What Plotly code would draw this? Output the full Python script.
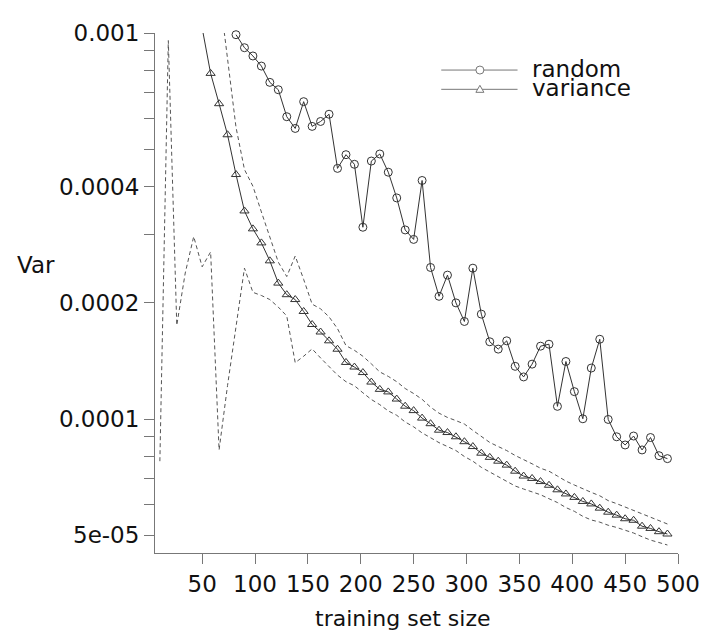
import math
import plotly.graph_objects as go

# training set sizes
sizes = [10, 18, 26, 34, 42, 50, 58, 66, 74, 82, 90, 98, 106, 114, 122, 130, 138, 146,
         154, 162, 170, 178, 186, 194, 202, 210, 218, 226, 234, 242, 250, 258, 266, 274,
         282, 290, 298, 306, 314, 322, 330, 338, 346, 354, 362, 370, 378, 386, 394, 402,
         410, 418, 426, 434, 442, 450, 458, 466, 474, 482, 490]

# "random" selection variance (starts at 82)
random_var = [None] * 9 + [
    9.90e-4, 9.16e-4, 8.72e-4, 8.21e-4, 7.45e-4, 7.13e-4, 6.07e-4, 5.66e-4, 6.64e-4,
    5.73e-4, 5.90e-4, 6.16e-4, 4.46e-4, 4.84e-4, 4.57e-4, 3.14e-4, 4.66e-4, 4.86e-4,
    4.36e-4, 3.74e-4, 3.09e-4, 2.92e-4, 4.15e-4, 2.47e-4, 2.08e-4, 2.36e-4, 2.00e-4,
    1.79e-4, 2.46e-4, 1.87e-4, 1.586e-4, 1.518e-4, 1.595e-4, 1.37e-4, 1.286e-4, 1.388e-4,
    1.545e-4, 1.563e-4, 1.079e-4, 1.41e-4, 1.178e-4, 1.002e-4, 1.356e-4, 1.61e-4, 9.98e-5,
    9.0e-5, 8.57e-5, 9.04e-5, 8.32e-5, 8.96e-5, 8.04e-5, 7.90e-5]

# "variance" selection curve
variance_var = [None] * 5 + [
    1.03e-3, 7.86e-4, 6.56e-4, 5.45e-4, 4.30e-4, 3.46e-4, 3.11e-4, 2.86e-4, 2.57e-4,
    2.25e-4, 2.10e-4, 2.04e-4, 1.90e-4, 1.758e-4, 1.681e-4, 1.595e-4, 1.517e-4, 1.402e-4,
    1.364e-4, 1.32e-4, 1.247e-4, 1.194e-4, 1.176e-4, 1.127e-4, 1.08e-4, 1.052e-4, 1.006e-4,
    9.73e-5, 9.36e-5, 9.23e-5, 9.0e-5, 8.74e-5, 8.49e-5, 8.16e-5, 7.96e-5, 7.78e-5, 7.60e-5,
    7.33e-5, 7.12e-5, 7.02e-5, 6.89e-5, 6.74e-5, 6.56e-5, 6.40e-5, 6.27e-5, 6.12e-5,
    6.03e-5, 5.88e-5, 5.74e-5, 5.64e-5, 5.52e-5, 5.47e-5, 5.28e-5, 5.21e-5, 5.11e-5, 5.04e-5]

# upper dashed band
upper_band = [None] * 7 + [
    1.29e-3, 8.49e-4, 5.70e-4, 4.43e-4, 4.01e-4, 3.44e-4, 2.96e-4, 2.55e-4, 2.34e-4,
    2.645e-4, 2.30e-4, 1.985e-4, 1.93e-4, 1.84e-4, 1.715e-4, 1.55e-4, 1.507e-4, 1.455e-4,
    1.39e-4, 1.325e-4, 1.29e-4, 1.25e-4, 1.20e-4, 1.165e-4, 1.125e-4, 1.074e-4, 1.036e-4,
    1.01e-4, 9.91e-5, 9.71e-5, 9.35e-5, 9.0e-5, 8.7e-5, 8.49e-5, 8.29e-5, 8.05e-5, 7.87e-5,
    7.66e-5, 7.46e-5, 7.33e-5, 7.12e-5, 6.91e-5, 6.75e-5, 6.59e-5, 6.46e-5, 6.33e-5,
    6.15e-5, 6.04e-5, 5.92e-5, 5.80e-5, 5.69e-5, 5.57e-5, 5.45e-5, 5.35e-5]

# lower dashed band
lower_band = [
    7.78e-5, 9.56e-4, 1.75e-4, 2.39e-4, 2.97e-4, 2.48e-4, 2.71e-4, 8.32e-5, 1.222e-4,
    1.75e-4, 2.46e-4, 2.13e-4, 2.09e-4, 2.04e-4, 1.95e-4, 1.85e-4, 1.40e-4, 1.455e-4,
    1.52e-4, 1.44e-4, 1.364e-4, 1.30e-4, 1.25e-4, 1.22e-4, 1.17e-4, 1.124e-4, 1.09e-4,
    1.05e-4, 1.023e-4, 9.83e-5, 9.55e-5, 9.21e-5, 8.95e-5, 8.69e-5, 8.49e-5, 8.29e-5,
    8.00e-5, 7.78e-5, 7.50e-5, 7.29e-5, 7.12e-5, 6.91e-5, 6.71e-5, 6.59e-5, 6.48e-5,
    6.37e-5, 6.22e-5, 6.08e-5, 5.90e-5, 5.77e-5, 5.60e-5, 5.48e-5, 5.41e-5, 5.31e-5,
    5.24e-5, 5.16e-5, 5.07e-5, 4.96e-5, 4.86e-5, 4.79e-5, 4.72e-5]

x_ticks = [50, 100, 150, 200, 250, 300, 350, 400, 450, 500]
y_ticks = [1e-3, 9e-4, 8e-4, 7e-4, 6e-4, 5e-4, 4e-4, 3e-4, 2e-4, 1e-4,
           9e-5, 8e-5, 7e-5, 6e-5, 5e-5]
y_ticktext = ["0.001", "", "", "", "", "", "0.0004", "", "0.0002", "0.0001",
              "", "", "", "", "5e-05"]

FONT = "DejaVu Sans"
LINE = "#333333"
DASH = "#555555"
AXIS = "#777777"

fig = go.Figure()
fig.add_trace(go.Scatter(x=sizes, y=upper_band, mode="lines",
                         line=dict(color=DASH, width=1, dash="4px,3px"), showlegend=False))
fig.add_trace(go.Scatter(x=sizes, y=lower_band, mode="lines",
                         line=dict(color=DASH, width=1, dash="4px,3px"), showlegend=False))
fig.add_trace(go.Scatter(x=sizes, y=variance_var, mode="lines+markers", name="variance",
                         line=dict(color=LINE, width=1),
                         marker=dict(symbol="triangle-up-open", size=8, color=LINE,
                                     line=dict(width=1)),
                         showlegend=False))
fig.add_trace(go.Scatter(x=sizes, y=random_var, mode="lines+markers", name="random",
                         line=dict(color=LINE, width=1), cliponaxis=False,
                         marker=dict(symbol="circle-open", size=8, color=LINE,
                                     line=dict(width=1)),
                         showlegend=False))

# page body has an 8px default margin: the figure starts at (8, 8) in the window
OFF = 8
W, H = 712 - OFF, 637 - OFF
ml, mr, mt, mb = 155 - OFF, 29, 24 - OFF, 84
pw, ph = W - ml - mr, H - mt - mb


def px2paper(px, py):
    # window pixel -> paper fraction
    return (px - OFF - ml) / pw, (H - mb - (py - OFF)) / ph


shapes = []
annotations = []
# manual legend (compact, like the reference)
for label, ypix, kind in [("random", 61.7, "circle"), ("variance", 81.3, "triangle")]:
    x0, yy = px2paper(444, ypix)
    x1, _ = px2paper(521, ypix)
    xm, _ = px2paper(483, ypix)
    shapes.append(dict(type="line", xref="paper", yref="paper", x0=x0, x1=x1, y0=yy, y1=yy,
                       line=dict(color=AXIS, width=1)))
    if kind == "circle":
        shapes.append(dict(type="circle", xref="paper", yref="paper",
                           xsizemode="pixel", ysizemode="pixel", xanchor=xm, yanchor=yy,
                           x0=-4, x1=4, y0=-4, y1=4, fillcolor="white",
                           line=dict(color=AXIS, width=1)))
    else:
        shapes.append(dict(type="path", xref="paper", yref="paper",
                           xsizemode="pixel", ysizemode="pixel", xanchor=xm, yanchor=yy,
                           path="M -4,-3 L 4,-3 L 0,4 Z", fillcolor="white",
                           line=dict(color=AXIS, width=1)))
    tx, ty = px2paper(534, ypix - 1.5)
    annotations.append(dict(text=label, xref="paper", yref="paper", x=tx, y=ty,
                            xanchor="left", yanchor="middle", showarrow=False,
                            font=dict(family=FONT, size=23, color="#111111")))

vx, vy = px2paper(35, 260)
annotations.append(dict(text="Var", xref="paper", yref="paper", x=vx, y=vy,
                        xanchor="center", yanchor="middle", showarrow=False,
                        font=dict(family=FONT, size=23, color="#111111")))
tx, ty = px2paper(405, 620)
annotations.append(dict(text="training set size", xref="paper", yref="paper", x=tx, y=ty,
                        xanchor="center", yanchor="middle", showarrow=False,
                        font=dict(family=FONT, size=22, color="#111111")))

fig.update_layout(
    width=W, height=H,
    margin=dict(l=ml, r=mr, t=mt, b=mb),
    paper_bgcolor="white", plot_bgcolor="white",
    shapes=shapes, annotations=annotations,
    xaxis=dict(range=[5.4, 500], tickvals=x_ticks, ticks="outside", ticklen=10,
               tickcolor=AXIS, showline=True, linecolor=AXIS, linewidth=1,
               showgrid=False, zeroline=False,
               tickfont=dict(family=FONT, size=23, color="#111111")),
    yaxis=dict(type="log", range=[math.log10(4.5e-5), -3], tickvals=y_ticks,
               ticktext=y_ticktext, ticks="outside", ticklen=10, tickcolor=AXIS,
               showline=True, linecolor=AXIS, linewidth=1, showgrid=False, zeroline=False,
               tickfont=dict(family=FONT, size=23, color="#111111")),
)

fig.write_html("out.html")
